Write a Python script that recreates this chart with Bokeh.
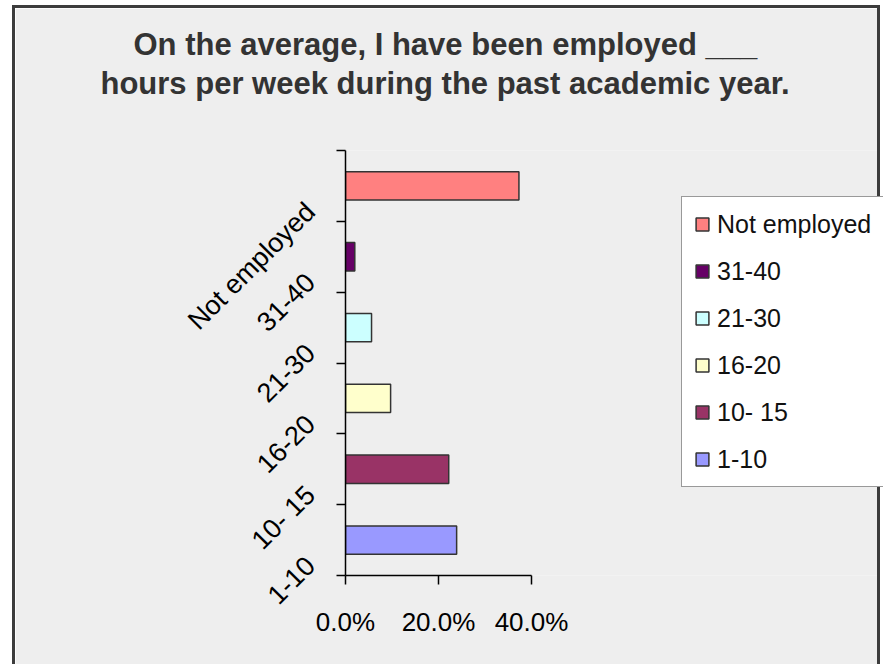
from math import pi

from bokeh.plotting import figure
from bokeh.models import (Range1d, FixedTicker, PrintfTickFormatter, Legend,
                          LegendItem, Title, ColumnDataSource, LinearAxis)
from bokeh.embed import file_html
from bokeh.resources import INLINE

# ---- data (bottom to top as drawn) ----
categories = ["1-10", "10- 15", "16-20", "21-30", "31-40", "Not employed"]
percents = [23.9, 22.2, 9.7, 5.6, 2.0, 37.3]
colors = ["#9999FF", "#993366", "#FFFFCC", "#CCFFFF", "#660066", "#FF8080"]
x_ticks = [0, 20, 40]
title_lines = ["On the average, I have been employed ___",
               "hours per week during the past academic year."]

FONT = "Liberation Sans"
n = len(categories)
ys = [i + 0.5 for i in range(n)]
label_pos = [round(i + 0.2, 2) for i in range(n)]

# layout constants (pixels)
W, H = 868, 659
LEFT, BOTTOM, TOP = 330, 92, 142
FRAME_W = W - LEFT           # plot area runs to the right edge (legend lives there)
AXIS_W = 186                 # length of the value axis, 0..40 %
x_end = max(x_ticks) * FRAME_W / AXIS_W

src = ColumnDataSource(dict(y=ys, right=percents, color=colors, cat=categories))

p = figure(width=W, height=H, output_backend="svg", toolbar_location=None,
           title=None,
           x_range=Range1d(0, x_end), y_range=Range1d(0, n),
           min_border_left=LEFT, min_border_right=0,
           min_border_top=TOP, min_border_bottom=BOTTOM,
           background_fill_color="#EEEEEE", border_fill_color="#EEEEEE",
           outline_line_color=None)
p.styles = {"margin-left": "12px", "margin-top": "5px",
            "border-left": "3px solid #3c3c3c",
            "border-top": "3px solid #3c3c3c",
            "border-right": "3px solid #3c3c3c"}
p.grid.visible = False

r = p.hbar(y="y", right="right", left=0, height=0.4, source=src,
           fill_color="color", line_color="#333333", line_width=1.5)

# x axis (only spans 0..40 %)
xa = p.xaxis[0]
xa.bounds = (min(x_ticks), max(x_ticks))
xa.ticker = FixedTicker(ticks=x_ticks)
xa.formatter = PrintfTickFormatter(format="%.1f%%")
xa.major_label_text_font = FONT
xa.major_label_text_font_size = "26px"
xa.major_label_text_color = "#000000"
xa.major_label_standoff = 22
xa.major_tick_out = 9
xa.major_tick_in = 0
xa.minor_tick_line_color = None
xa.axis_line_color = "#000000"
xa.axis_line_width = 1.5
xa.major_tick_line_color = "#000000"
xa.major_tick_line_width = 1.5

# y axis: tick marks at category boundaries
ya = p.yaxis[0]
ya.ticker = FixedTicker(ticks=list(range(n + 1)))
ya.major_label_overrides = {i: "" for i in range(n + 1)}
ya.major_label_standoff = 0
ya.major_tick_out = 9
ya.major_tick_in = 0
ya.minor_tick_line_color = None
ya.axis_line_color = "#000000"
ya.axis_line_width = 1.5
ya.major_tick_line_color = "#000000"
ya.major_tick_line_width = 1.5

# category labels (rotated), on an outer axis without line/ticks
yl = LinearAxis(ticker=FixedTicker(ticks=label_pos),
                major_label_overrides={v: c for v, c in zip(label_pos, categories)},
                major_label_orientation=pi / 4,
                major_label_text_font=FONT,
                major_label_text_font_size="27px",
                major_label_text_color="#000000",
                major_label_standoff=26,
                major_tick_out=0, major_tick_in=0, minor_tick_out=0,
                axis_line_color=None, major_tick_line_color=None,
                minor_tick_line_color=None)
p.add_layout(yl, "left")

# legend (top to bottom: reverse order), inside the wide plot area
items = [LegendItem(label=categories[i], renderers=[r], index=i)
         for i in reversed(range(n))]
legend = Legend(items=items, location=(336, 88),
                label_text_font=FONT, label_text_font_size="25px",
                label_text_color="#111111",
                glyph_width=16, glyph_height=16, label_height=30,
                label_standoff=7, spacing=17, padding=12, margin=0,
                border_line_color="#333333", border_line_width=1.5,
                background_fill_color="#FFFFFF", background_fill_alpha=1.0)
p.add_layout(legend)

# empty spacer between the plot and the two title lines
spacer = LinearAxis(ticker=FixedTicker(ticks=[0]), major_label_overrides={0: ""},
                    major_tick_out=48, major_tick_in=0, minor_tick_out=0,
                    major_label_standoff=0, major_label_text_font_size="10px",
                    axis_line_color=None, major_tick_line_color=None,
                    minor_tick_line_color=None)
p.add_layout(spacer, "above")

title_style = dict(align="left", text_font=FONT, text_font_size="31px",
                   text_font_style="bold", text_color="#333333")
p.add_layout(Title(text=title_lines[1], offset=-245, standoff=4, **title_style), "above")
p.add_layout(Title(text=title_lines[0], offset=-212, standoff=0, **title_style), "above")

open("out.html", "w").write(file_html(p, INLINE))
